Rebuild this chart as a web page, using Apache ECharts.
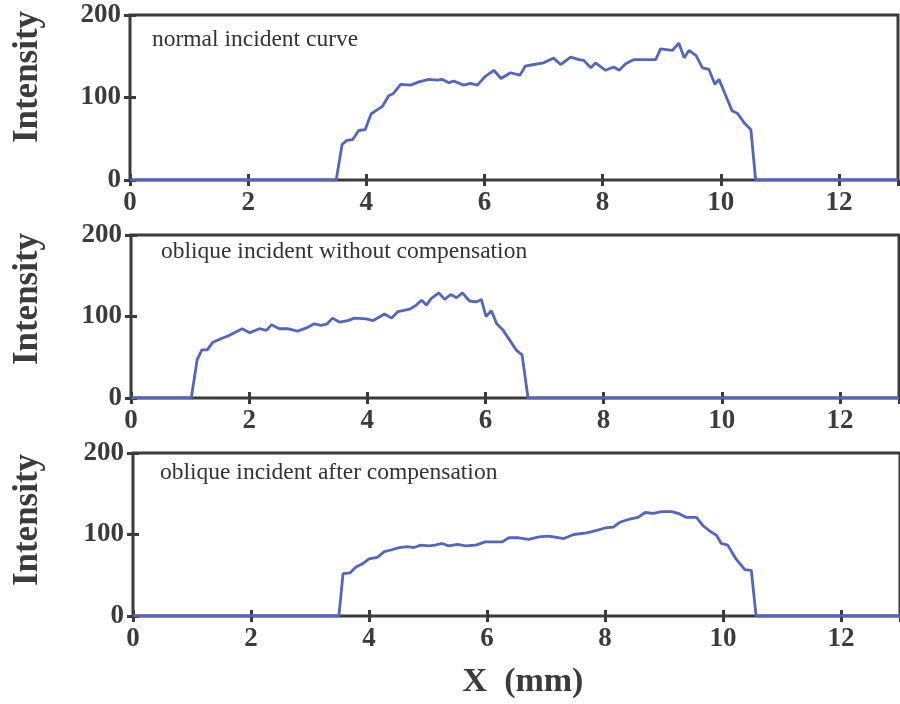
<!DOCTYPE html>
<html>
<head>
<meta charset="utf-8">
<script src="https://cdn.jsdelivr.net/npm/echarts@6/dist/echarts.min.js"></script>
<style>
  html, body { margin: 0; padding: 0; background: #fff; }
  #chart { width: 900px; height: 704px; }
</style>
</head>
<body>
<div id="chart"></div>
<script>
// x (mm), intensity
const normalCurve = [
  [0, 0], [3.49, 0], [3.59, 43], [3.67, 48], [3.77, 49], [3.87, 60], [3.98, 61], [4.08, 80],
  [4.18, 85], [4.27, 89], [4.38, 102], [4.46, 105], [4.58, 116], [4.75, 115], [4.89, 119],
  [5.06, 122], [5.2, 121], [5.28, 122], [5.4, 118], [5.48, 120], [5.65, 115], [5.76, 117],
  [5.88, 115], [6.02, 126], [6.16, 133], [6.28, 123], [6.44, 130], [6.6, 127], [6.69, 138],
  [6.84, 140], [7.0, 142], [7.17, 148], [7.29, 140], [7.46, 149], [7.6, 146], [7.68, 145],
  [7.8, 136], [7.88, 142], [8.05, 133], [8.19, 137], [8.28, 133], [8.39, 141], [8.53, 146],
  [8.9, 146], [8.98, 159], [9.18, 157], [9.29, 166], [9.38, 148], [9.46, 157], [9.58, 151],
  [9.69, 136], [9.8, 134], [9.9, 116], [9.97, 122], [10.08, 103], [10.19, 84], [10.28, 81],
  [10.4, 69], [10.51, 61], [10.59, 0], [13, 0]
];
const obliqueRaw = [
  [0, 0], [1.02, 0], [1.12, 47], [1.2, 59], [1.29, 59], [1.38, 68], [1.53, 73], [1.64, 76],
  [1.75, 80], [1.88, 85], [2.01, 80], [2.17, 85], [2.29, 83], [2.38, 90], [2.51, 85],
  [2.65, 85], [2.82, 82], [2.97, 86], [3.1, 91], [3.22, 89], [3.32, 91], [3.41, 98],
  [3.53, 93], [3.67, 95], [3.78, 98], [3.98, 97], [4.1, 95], [4.29, 103], [4.41, 98],
  [4.52, 106], [4.72, 109], [4.83, 114], [4.92, 120], [5.0, 114], [5.08, 122], [5.21, 129],
  [5.31, 121], [5.41, 127], [5.51, 123], [5.61, 129], [5.73, 119], [5.85, 118], [5.93, 121],
  [6.01, 100], [6.1, 107], [6.19, 91], [6.3, 83], [6.41, 71], [6.53, 58], [6.62, 53],
  [6.72, 0], [13, 0]
];
const obliqueComp = [
  [0, 0], [3.49, 0], [3.56, 52], [3.68, 53], [3.78, 60], [3.89, 64], [4.0, 70], [4.14, 72],
  [4.26, 79], [4.37, 81], [4.51, 84], [4.65, 85], [4.76, 84], [4.88, 87], [5.02, 86],
  [5.12, 87], [5.24, 89], [5.35, 86], [5.5, 88], [5.64, 86], [5.81, 87], [5.97, 91],
  [6.11, 91], [6.26, 91], [6.37, 96], [6.54, 96], [6.71, 94], [6.88, 97], [7.04, 98],
  [7.13, 97], [7.3, 95], [7.47, 100], [7.69, 102], [7.86, 105], [8.0, 108], [8.14, 109],
  [8.25, 115], [8.42, 119], [8.56, 121], [8.68, 127], [8.82, 126], [8.96, 128], [9.13, 128],
  [9.24, 126], [9.38, 121], [9.55, 121], [9.66, 111], [9.78, 104], [9.89, 99], [9.97, 89],
  [10.08, 87], [10.22, 70], [10.37, 57], [10.48, 56], [10.56, 0], [13, 0]
];
const panelLabels = [
  'normal incident curve',
  'oblique incident without compensation',
  'oblique incident after compensation'
];
const xTicks = { min: 0, max: 13, interval: 2 };
const yTicks = { min: 0, max: 200, interval: 100 };

const serif = "'Times New Roman', 'Liberation Serif', serif";
const axisColor = '#3b3b3b';
const lineColor = '#5465c0';

// panel boxes in pixels
const panels = [
  { left: 130, top: 15, width: 768, height: 165, labelX: 152, labelY: 41, titleY: 77 },
  { left: 131, top: 235, width: 768, height: 163, labelX: 161, labelY: 253, titleY: 299 },
  { left: 133, top: 453, width: 770, height: 163, labelX: 160, labelY: 474, titleY: 520 }
];
const curves = [normalCurve, obliqueRaw, obliqueComp];

const grid = [], xAxis = [], yAxis = [], series = [], graphic = [];

panels.forEach((p, i) => {
  grid.push({
    left: p.left, top: p.top, width: p.width, height: p.height,
    show: true, borderColor: axisColor, borderWidth: 3, backgroundColor: 'transparent'
  });
  const tick = { show: true, inside: true, length: 6, lineStyle: { color: axisColor, width: 3 } };
  // bottom axis with labels
  xAxis.push({
    gridIndex: i, type: 'value', position: 'bottom', ...xTicks,
    axisLine: { show: false }, splitLine: { show: false }, axisTick: tick,
    axisLabel: {
      show: true, margin: 10, showMaxLabel: false,
      color: axisColor, fontFamily: serif, fontWeight: 'bold', fontSize: 27
    }
  });
  // top axis, ticks only
  xAxis.push({
    gridIndex: i, type: 'value', position: 'top', ...xTicks,
    axisLine: { show: false }, splitLine: { show: false }, axisTick: tick,
    axisLabel: { show: false }
  });
  yAxis.push({
    gridIndex: i, type: 'value', position: 'left', ...yTicks,
    axisLine: { show: false }, splitLine: { show: false }, axisTick: tick,
    axisLabel: {
      show: true, margin: 9, padding: [10, 0, 0, 0],
      color: axisColor, fontFamily: serif, fontWeight: 'bold', fontSize: 27
    }
  });
  yAxis.push({
    gridIndex: i, type: 'value', position: 'right', ...yTicks,
    axisLine: { show: false }, splitLine: { show: false }, axisTick: tick,
    axisLabel: { show: false }
  });
  series.push({
    type: 'line', xAxisIndex: i * 2, yAxisIndex: i * 2,
    data: curves[i], showSymbol: false, symbol: 'none',
    lineStyle: { color: lineColor, width: 2.8 }, z: 5
  });
  graphic.push({
    type: 'text', left: p.labelX, top: p.labelY - 13,
    style: { text: panelLabels[i], fill: '#333', font: '23.5px ' + serif }
  });
  graphic.push({
    type: 'text', x: 28, y: p.titleY, rotation: Math.PI / 2,
    style: {
      text: 'Intensity', fill: axisColor, font: 'bold 35px ' + serif,
      textAlign: 'center', textVerticalAlign: 'middle'
    }
  });
});

graphic.push({
  type: 'text', x: 523, y: 682,
  style: {
    text: 'X  (mm)', fill: axisColor, font: 'bold 34px ' + serif,
    textAlign: 'center', textVerticalAlign: 'middle'
  }
});

const chart = echarts.init(document.getElementById('chart'));
chart.setOption({
  animation: false,
  backgroundColor: '#fff',
  grid, xAxis, yAxis, series, graphic
});
</script>
</body>
</html>
